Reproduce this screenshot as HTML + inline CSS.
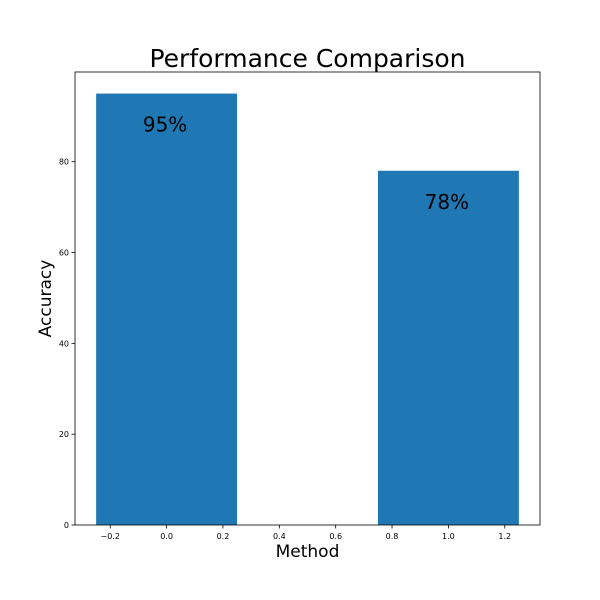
<!DOCTYPE html>
<html><head><meta charset="utf-8"><style>body{margin:0;background:#fff}svg{display:block}text{font-family:"DejaVu Sans","Liberation Sans",sans-serif}</style></head>
<body>
<svg id="chart" width="600" height="600" xmlns="http://www.w3.org/2000/svg">
<rect width="600" height="600" fill="#fff"/>
<text x="307.5" y="67" font-size="25" text-anchor="middle">Performance Comparison</text>
<g id="bars"></g>
<g id="xticks"></g>
<g id="yticks"></g>
<rect x="75" y="72" width="465" height="453" fill="none" stroke="#000" stroke-width="0.8"/>
<text x="307.5" y="557" font-size="17" text-anchor="middle">Method</text>
<text transform="translate(51,298.5) rotate(-90)" font-size="17" text-anchor="middle">Accuracy</text>
</svg>
<script>
const categories = [0, 1];
const values = [95, 78];
const labels = ["95%", "78%"];
const xTicks = [-0.2, 0.0, 0.2, 0.4, 0.6, 0.8, 1.0, 1.2];
const yTicks = [0, 20, 40, 60, 80];
const NS = "http://www.w3.org/2000/svg";
const L=75,R=540,T=72,B=525;
const xmin=-0.325,xmax=1.325,ymax=99.75;
const xs=v=>L+(v-xmin)/(xmax-xmin)*(R-L);
const ys=v=>B-v/ymax*(B-T);
function mk(tag,attrs,parent){const e=document.createElementNS(NS,tag);for(const k in attrs)e.setAttribute(k,attrs[k]);parent.appendChild(e);return e;}
const bars=document.getElementById('bars');
categories.forEach((c,i)=>{
  const r=mk('rect',{x:xs(c-0.25),y:ys(values[i]),width:xs(c+0.25)-xs(c-0.25),height:ys(0)-ys(values[i]),fill:'#1f77b4'},bars);
  
  
  const t=mk('text',{x:xs(c)-1.5,y:ys(values[i])+38,'font-size':20,'text-anchor':'middle'},bars);
  t.textContent=labels[i];
  
  
});
const xg=document.getElementById('xticks');
xTicks.forEach(v=>{
  const x=xs(v);
  mk('line',{x1:x,x2:x,y1:B,y2:B+3.5,stroke:'#000','stroke-width':0.8},xg);
  const t=mk('text',{x:x,y:B+14,'font-size':8,'text-anchor':'middle'},xg);
  t.textContent=(v<0?'\u2212':'')+Math.abs(v).toFixed(1);
  
  
});
const yg=document.getElementById('yticks');
yTicks.forEach(v=>{
  const y=ys(v);
  mk('line',{x1:L-3.5,x2:L,y1:y,y2:y,stroke:'#000','stroke-width':0.8},yg);
  const t=mk('text',{x:L-6,y:y+3,'font-size':8,'text-anchor':'end'},yg);
  t.textContent=v;
  
  
});
</script>
</body></html>
